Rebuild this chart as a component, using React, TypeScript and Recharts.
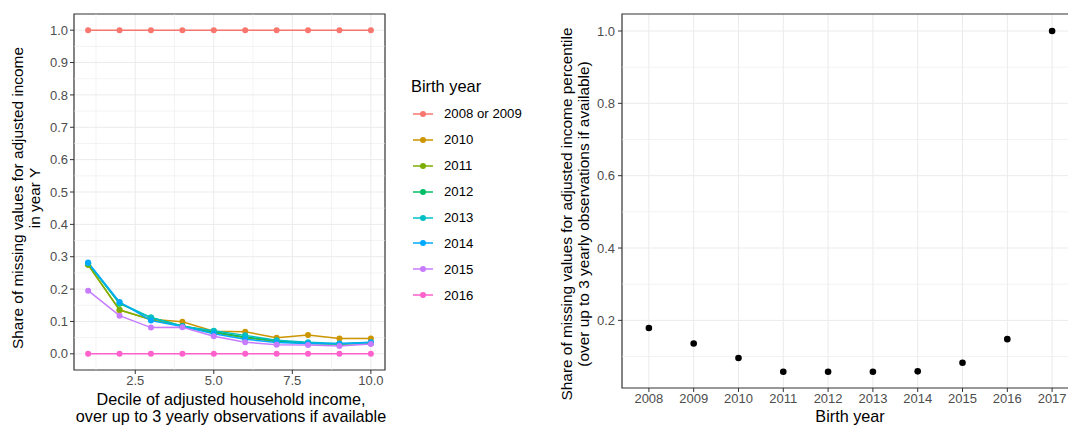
import {
  LineChart,
  Line,
  ScatterChart,
  Scatter,
  XAxis,
  YAxis,
  CartesianGrid,
  ReferenceLine,
  ReferenceArea,
} from 'recharts';

// Left panel: share missing by income decile, one series per birth year
const DECILES = [1, 2, 3, 4, 5, 6, 7, 8, 9, 10];
const SERIES_NAMES = ['2008 or 2009', '2010', '2011', '2012', '2013', '2014', '2015', '2016'];
const SERIES_COLORS = ['#F8766D', '#CD9600', '#7CAE00', '#00BE67', '#00BFC4', '#00A9FF', '#C77CFF', '#FF61CC'];
const S_2008_09 = [1, 1, 1, 1, 1, 1, 1, 1, 1, 1];
const S_2010 = [0.275, 0.135, 0.107, 0.099, 0.07, 0.068, 0.05, 0.058, 0.047, 0.047];
const S_2011 = [0.275, 0.136, 0.105, 0.086, 0.065, 0.05, 0.038, 0.032, 0.03, 0.033];
const S_2012 = [0.28, 0.155, 0.112, 0.086, 0.068, 0.052, 0.04, 0.033, 0.03, 0.033];
const S_2013 = [0.28, 0.158, 0.112, 0.085, 0.071, 0.057, 0.042, 0.036, 0.032, 0.036];
const S_2014 = [0.282, 0.16, 0.103, 0.084, 0.062, 0.045, 0.035, 0.032, 0.031, 0.035];
const S_2015 = [0.195, 0.118, 0.081, 0.082, 0.054, 0.036, 0.028, 0.027, 0.024, 0.03];
const S_2016 = [0, 0, 0, 0, 0, 0, 0, 0, 0, 0];
const SERIES_VALUES = [S_2008_09, S_2010, S_2011, S_2012, S_2013, S_2014, S_2015, S_2016];

const LEFT_X_TICKS = [2.5, 5, 7.5, 10];
const LEFT_X_MINOR = [1.25, 3.75, 6.25, 8.75];
const LEFT_Y_TICKS = [0, 0.1, 0.2, 0.3, 0.4, 0.5, 0.6, 0.7, 0.8, 0.9, 1];
const LEFT_Y_MINOR = [0.05, 0.15, 0.25, 0.35, 0.45, 0.55, 0.65, 0.75, 0.85, 0.95];

// Right panel: share missing by birth year
const BIRTH_YEARS = [2008, 2009, 2010, 2011, 2012, 2013, 2014, 2015, 2016, 2017];
const SHARE_MISSING = [0.179, 0.136, 0.096, 0.058, 0.058, 0.058, 0.059, 0.083, 0.148, 1.0];
const RIGHT_Y_TICKS = [0.2, 0.4, 0.6, 0.8, 1.0];
const RIGHT_Y_MINOR = [0.1, 0.3, 0.5, 0.7, 0.9];

const FONT = '"Liberation Sans", Arial, Helvetica, sans-serif';
const TICK_STYLE = { fill: '#4D4D4D', fontSize: 13, fontFamily: FONT };
const GRID = '#EBEBEB';
const BORDER = '#333333';

const lineData = DECILES.map((d, i) => {
  const row: Record<string, number> = { decile: d };
  SERIES_NAMES.forEach((name, s) => {
    row[name] = SERIES_VALUES[s][i];
  });
  return row;
});

const scatterData = BIRTH_YEARS.map((year, i) => ({ year, share: SHARE_MISSING[i] }));

// rotated two-line axis title
function yTitle(lines: string[], cx: number, cy: number) {
  return () => (
    <text
      transform={`translate(${cx}, ${cy}) rotate(-90)`}
      textAnchor="middle"
      fontFamily={FONT}
      fontSize={15.4}
      fill="#000"
    >
      {lines.map((t, i) => (
        <tspan key={t} x={0} dy={i === 0 ? -(lines.length - 1) * 8 + 5 : 16.5}>
          {t}
        </tspan>
      ))}
    </text>
  );
}

function xTitle(lines: string[], cx: number, top: number) {
  return () => (
    <text textAnchor="middle" fontFamily={FONT} fontSize={16.2} fill="#000">
      {lines.map((t, i) => (
        <tspan key={t} x={cx} y={top + i * 16.5}>
          {t}
        </tspan>
      ))}
    </text>
  );
}

function Legend() {
  return (
    <div style={{ position: 'absolute', left: 411, top: 77, fontFamily: FONT }}>
      <div style={{ fontSize: 16.4, color: '#000', height: 24 }}>Birth year</div>
      {SERIES_NAMES.map((name, i) => (
        <div key={name} style={{ display: 'flex', alignItems: 'center', height: 25.9 }}>
          <svg width={30} height={20}>
            <line x1={2} x2={22} y1={10} y2={10} stroke={SERIES_COLORS[i]} strokeWidth={1.5} />
            <circle cx={12} cy={10} r={3} fill={SERIES_COLORS[i]} />
          </svg>
          <span style={{ fontSize: 13.2, color: '#000', marginLeft: 3 }}>{name}</span>
        </div>
      ))}
    </div>
  );
}

export default function App() {
  return (
    <div
      style={{
        position: 'absolute',
        left: 0,
        top: 0,
        width: 1068,
        height: 427,
        overflow: 'hidden',
        background: '#fff',
      }}
    >
      <div style={{ position: 'absolute', left: 0, top: 0 }}>
        <LineChart
          width={400}
          height={427}
          data={lineData}
          margin={{ top: 14, right: 15, bottom: 0, left: 0 }}
        >
          <CartesianGrid
            stroke={GRID}
            strokeWidth={1}
            horizontalValues={LEFT_Y_TICKS}
            verticalValues={LEFT_X_TICKS}
          />
          {LEFT_Y_MINOR.map((v) => (
            <ReferenceLine key={`hy${v}`} y={v} stroke={GRID} strokeWidth={0.6} />
          ))}
          {LEFT_X_MINOR.map((v) => (
            <ReferenceLine key={`vx${v}`} x={v} stroke={GRID} strokeWidth={0.6} />
          ))}
          <XAxis
            dataKey="decile"
            type="number"
            domain={[0.55, 10.45]}
            ticks={LEFT_X_TICKS}
            allowDataOverflow
            height={57}
            axisLine={false}
            tickLine={{ stroke: BORDER }}
            tickSize={4}
            tickMargin={2}
            tick={TICK_STYLE}
            tickFormatter={(v: number) => v.toFixed(1)}
            label={{
              content: xTitle(
                ['Decile of adjusted household income,', 'over up to 3 yearly observations if available'],
                231,
                405
              ),
            }}
          />
          <YAxis
            type="number"
            domain={[-0.05, 1.05]}
            ticks={LEFT_Y_TICKS}
            allowDataOverflow
            width={74}
            axisLine={false}
            tickLine={{ stroke: BORDER }}
            tickSize={4}
            tickMargin={2}
            tick={TICK_STYLE}
            tickFormatter={(v: number) => v.toFixed(1)}
            label={{
              content: yTitle(['Share of missing values for adjusted income', 'in year Y'], 26, 198),
            }}
          />
          <ReferenceArea
            x1={0.55}
            x2={10.45}
            y1={-0.05}
            y2={1.05}
            fill="none"
            fillOpacity={0}
            stroke={BORDER}
            strokeWidth={1.2}
          />
          {SERIES_NAMES.map((name, i) => (
            <Line
              key={name}
              dataKey={name}
              stroke={SERIES_COLORS[i]}
              strokeWidth={1.5}
              dot={{ r: 3, fill: SERIES_COLORS[i], stroke: SERIES_COLORS[i], strokeWidth: 0 }}
              activeDot={false}
              isAnimationActive={false}
            />
          ))}
        </LineChart>
      </div>
      <Legend />
      <div style={{ position: 'absolute', left: 540, top: 0 }}>
        <ScatterChart
          width={545}
          height={427}
          margin={{ top: 14, right: 6, bottom: 0, left: 0 }}
        >
          <CartesianGrid
            stroke={GRID}
            strokeWidth={1}
            horizontalValues={RIGHT_Y_TICKS}
            verticalValues={BIRTH_YEARS}
          />
          {RIGHT_Y_MINOR.map((v) => (
            <ReferenceLine key={`ry${v}`} y={v} stroke={GRID} strokeWidth={0.6} />
          ))}
          <XAxis
            dataKey="year"
            type="number"
            domain={[2007.4, 2017.6]}
            ticks={BIRTH_YEARS}
            allowDataOverflow
            height={39}
            axisLine={false}
            tickLine={{ stroke: BORDER }}
            tickSize={4}
            tickMargin={2}
            tick={TICK_STYLE}
            label={{ content: xTitle(['Birth year'], 310, 422) }}
          />
          <YAxis
            dataKey="share"
            type="number"
            domain={[0.013, 1.047]}
            ticks={RIGHT_Y_TICKS}
            allowDataOverflow
            width={82}
            axisLine={false}
            tickLine={{ stroke: BORDER }}
            tickSize={4}
            tickMargin={3}
            tick={TICK_STYLE}
            tickFormatter={(v: number) => v.toFixed(1)}
            label={{
              content: yTitle(
                [
                  'Share of missing values for adjusted income percentile',
                  '(over up to 3 yearly observations if available)',
                ],
                35,
                214
              ),
            }}
          />
          <ReferenceArea
            x1={2007.4}
            x2={2017.6}
            y1={0.013}
            y2={1.047}
            fill="none"
            fillOpacity={0}
            stroke={BORDER}
            strokeWidth={1.2}
          />
          <Scatter
            data={scatterData}
            fill="#000"
            isAnimationActive={false}
            shape={(p: { cx?: number; cy?: number }) => (
              <circle cx={p.cx} cy={p.cy} r={3.3} fill="#000" />
            )}
          />
        </ScatterChart>
      </div>
    </div>
  );
}
